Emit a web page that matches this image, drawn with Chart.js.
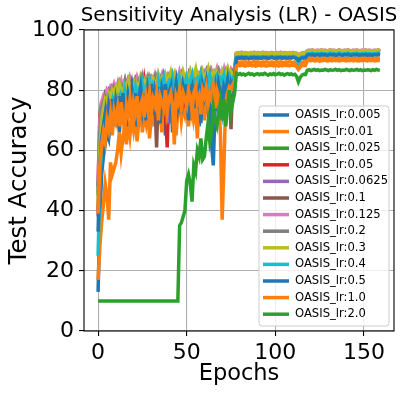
<!DOCTYPE html>
<html><head><meta charset="utf-8">
<script src="https://cdn.jsdelivr.net/npm/chart.js@4/dist/chart.umd.min.js"></script>
<style>html,body{margin:0;padding:0;background:#fff;}canvas{display:block;}</style>
</head><body>
<canvas id="c" width="408" height="395"></canvas>
<script>
// ---- data (Test Accuracy per epoch, epochs 0..159) ----
const lr0005 = [
13,38,52,58,62,66,64,70,68,72, 70,74,66,75,72,77,68,76,73,78,
71,77,74,79,70,76,78,72,79,75, 80,73,78,76,81,70,79,77,65,78,
80,74,79,76,82,72,80,78,75,81, 77,80,70,79,81,74,80,68,78,81,
76,80,72,79,62,55,74,80,77,81, 73,79,82,76,80,78,83,81,
90.5,90.8,90.6,90.9,90.7,90.8,91.0,90.6,90.9,90.7, 90.8,91.0,90.7,90.9,90.6,90.8,91.0,90.8,90.7,90.9,
91.0,90.8,90.9,90.7,91.0,90.8,90.9,91.1,90.8,90.9, 91.0,90.8,90.9,91.0,90.8,90.2,90.6,90.9,90.8,91.0,
91.7,91.9,91.8,91.7,91.9,91.8,92.0,91.8,91.7,91.9, 91.8,91.9,91.7,91.8,92.0,91.8,91.9,91.7,91.8,91.9,
91.8,92.0,91.8,91.7,91.9,91.8,91.9,91.8,92.0,91.8, 91.7,91.9,91.8,91.9,91.8,91.7,91.9,91.8,92.0,91.8,
91.9,91.8];
const lr001 = [
17,28,36,42,49,45,37,56,52,54, 56,60,66,59,64,68,62,70,65,71,
67,72,63,70,74,66,72,69,75,64, 71,74,68,76,70,73,66,75,72,77,
69,74,71,76,65,73,77,70,75,72, 76,68,74,77,71,75,64,76,73,78,
70,76,74,78,72,77,75,79,73,77, 76,80,74,78,77,81,79,82,
89.0,89.3,89.1,89.4,89.2,89.5,89.2,89.4,89.1,89.3, 89.5,89.2,89.4,89.3,89.1,89.4,89.2,89.5,89.3,89.2,
89.4,89.1,89.3,89.5,89.2,89.4,89.3,89.1,89.4,89.2, 89.5,89.3,89.2,89.4,89.0,88.3,88.8,89.2,89.4,89.3,
90.5,90.7,90.6,90.8,90.5,90.7,90.6,90.4,90.7,90.6, 90.8,90.5,90.6,90.7,90.5,90.8,90.6,90.7,90.5,90.6,
90.8,90.6,90.5,90.7,90.6,90.8,90.5,90.7,90.6,90.5, 90.7,90.6,90.8,90.6,90.5,90.7,90.6,90.8,90.5,90.6,
90.7,90.6];
const lr0025 = [
45,62,70,74,76,78,75,79,77,80, 78,81,76,80,79,82,77,81,80,82,
79,81,83,78,82,80,83,81,79,82, 83,80,82,84,81,83,79,82,84,81,
83,80,84,82,83,81,84,82,80,83, 84,81,83,85,82,84,80,83,85,82,
84,83,85,81,84,82,85,83,84,82, 85,83,84,86,82,85,84,86,
91.2,91.4,91.3,91.5,91.2,91.4,91.3,91.5,91.4,91.2, 91.4,91.3,91.5,91.3,91.4,91.2,91.5,91.3,91.4,91.3,
91.5,91.4,91.2,91.4,91.3,91.5,91.3,91.4,91.2,91.4, 91.3,91.5,91.4,91.3,91.2,90.8,91.1,91.3,91.4,91.3,
92.3,92.5,92.4,92.6,92.3,92.5,92.4,92.3,92.5,92.4, 92.6,92.4,92.3,92.5,92.4,92.6,92.3,92.4,92.5,92.4,
92.3,92.5,92.4,92.6,92.4,92.3,92.5,92.4,92.6,92.3, 92.4,92.5,92.4,92.3,92.5,92.4,92.6,92.4,92.5,92.3,
92.4,92.5];
const lr005 = [
40,60,68,72,75,73,77,76,78,75, 79,77,80,76,79,81,78,80,77,81,
79,82,78,80,81,77,82,75,80,82, 79,81,83,78,82,80,77,81,72,61,
80,82,78,83,81,79,82,80,83,78, 82,84,80,83,81,84,79,82,84,81,
83,80,84,82,85,81,83,84,80,83, 82,79,84,85,81,84,86,85,
91.5,91.7,91.6,91.8,91.5,91.7,91.6,91.4,91.7,91.6, 91.8,91.5,91.7,91.6,91.5,91.8,91.6,91.7,91.5,91.6,
91.8,91.6,91.5,91.7,91.6,91.8,91.5,91.7,91.6,91.5, 91.7,91.6,91.8,91.6,91.5,91.0,91.3,91.6,91.7,91.6,
92.5,92.7,92.6,92.8,92.5,92.6,92.7,92.5,92.8,92.6, 92.7,92.5,92.6,92.8,92.6,92.7,92.5,92.6,92.8,92.6,
92.5,92.7,92.6,92.8,92.6,92.5,92.7,92.6,92.8,92.5, 92.6,92.7,92.6,92.8,92.5,92.7,92.6,92.5,92.7,92.6,
92.8,92.6];
const lr00625 = [
38,58,67,71,74,76,73,78,76,79, 77,80,78,81,76,80,79,82,78,81,
80,78,82,79,81,83,78,82,80,81, 83,79,82,81,84,80,82,83,78,69,
81,83,80,84,82,79,83,81,84,80, 83,82,84,80,83,85,81,84,82,83,
85,81,83,80,68,79,84,82,85,83, 81,84,83,85,82,84,85,84,
91.8,92.0,91.9,92.1,91.8,92.0,91.9,91.7,92.0,91.9, 92.1,91.8,92.0,91.9,91.8,92.1,91.9,92.0,91.8,91.9,
92.1,91.9,91.8,92.0,91.9,92.1,91.8,92.0,91.9,91.8, 92.0,91.9,92.1,91.9,91.8,91.3,91.6,91.9,92.0,91.9,
92.8,93.0,92.9,93.1,92.8,92.9,93.0,92.8,93.1,92.9, 93.0,92.8,92.9,93.1,92.9,93.0,92.8,92.9,93.1,92.9,
92.8,93.0,92.9,93.1,92.9,92.8,93.0,92.9,93.1,92.8, 92.9,93.0,92.9,93.1,92.8,93.0,92.9,92.8,93.0,92.9,
93.1,92.9];
const lr01 = [
48,72,76,77,79,78,80,79,81,80, 81,80,82,79,81,82,80,83,81,82,
80,83,81,82,84,81,83,82,84,81, 83,82,78,61,80,83,82,84,81,83,
82,84,83,81,84,82,85,83,82,84, 83,85,82,84,83,85,84,82,85,83,
84,86,83,85,84,82,85,84,86,83, 85,84,86,83,82,67,84,85,
92.0,92.2,92.1,92.3,92.0,92.2,92.1,91.9,92.2,92.1, 92.3,92.0,92.2,92.1,92.0,92.3,92.1,92.2,92.0,92.1,
92.3,92.1,92.0,92.2,92.1,92.3,92.0,92.2,92.1,92.0, 92.2,92.1,92.3,92.1,92.0,91.5,91.8,92.1,92.2,92.1,
92.9,93.1,93.0,93.2,92.9,93.0,93.1,92.9,93.2,93.0, 93.1,92.9,93.0,93.2,93.0,93.1,92.9,93.0,93.2,93.0,
92.9,93.1,93.0,93.2,93.0,92.9,93.1,93.0,93.2,92.9, 93.0,93.1,93.0,93.2,92.9,93.1,93.0,92.9,93.1,93.0,
93.2,93.0];
const lr0125 = [
50,70,76,78,77,80,79,81,80,82, 80,82,81,83,80,82,83,81,84,82,
83,81,84,82,83,85,82,84,83,81, 84,83,85,82,84,83,85,82,84,85,
83,85,84,82,85,83,86,84,85,83, 85,84,86,83,85,84,86,85,83,86,
84,86,85,83,86,84,85,87,84,86, 85,87,84,86,85,87,86,87,
92.3,92.5,92.4,92.6,92.3,92.5,92.4,92.2,92.5,92.4, 92.6,92.3,92.5,92.4,92.3,92.6,92.4,92.5,92.3,92.4,
92.6,92.4,92.3,92.5,92.4,92.6,92.3,92.5,92.4,92.3, 92.5,92.4,92.6,92.4,92.3,91.8,92.1,92.4,92.5,92.4,
93.1,93.3,93.2,93.4,93.1,93.2,93.3,93.1,93.4,93.2, 93.3,93.1,93.2,93.4,93.2,93.3,93.1,93.2,93.4,93.2,
93.1,93.3,93.2,93.4,93.2,93.1,93.3,93.2,93.4,93.1, 93.2,93.3,93.2,93.4,93.1,93.3,93.2,93.1,93.3,93.2,
93.4,93.2];
const lr02 = [
46,66,74,76,78,77,79,80,78,81, 80,79,82,80,81,83,79,82,81,83,
81,82,80,83,82,84,81,83,82,80, 83,82,84,81,83,84,82,85,83,81,
84,82,85,83,81,84,83,85,82,84, 83,85,82,84,85,83,81,84,86,83,
85,83,84,86,82,85,84,83,86,84, 83,85,86,84,85,83,86,85,
91.9,92.1,92.0,92.2,91.9,92.1,92.0,91.8,92.1,92.0, 92.2,91.9,92.1,92.0,91.9,92.2,92.0,92.1,91.9,92.0,
92.2,92.0,91.9,92.1,92.0,92.2,91.9,92.1,92.0,91.9, 92.1,92.0,92.2,92.0,91.9,91.4,91.7,92.0,92.1,92.0,
92.7,92.9,92.8,93.0,92.7,92.8,92.9,92.7,93.0,92.8, 92.9,92.7,92.8,93.0,92.8,92.9,92.7,92.8,93.0,92.8,
92.7,92.9,92.8,93.0,92.8,92.7,92.9,92.8,93.0,92.7, 92.8,92.9,92.8,93.0,92.7,92.9,92.8,92.7,92.9,92.8,
93.0,92.8];
const lr03 = [
42,60,70,74,77,76,79,78,80,79, 81,79,82,80,78,82,81,83,80,82,
81,83,82,80,84,82,83,81,84,83, 82,84,83,81,85,83,84,82,85,83,
84,86,83,85,82,84,85,83,86,84, 85,83,86,84,85,87,83,85,84,86,
84,85,87,83,85,86,84,86,85,83, 86,84,85,87,84,86,85,86,
92.1,92.3,92.2,92.4,92.1,92.3,92.2,92.0,92.3,92.2, 92.4,92.1,92.3,92.2,92.1,92.4,92.2,92.3,92.1,92.2,
92.4,92.2,92.1,92.3,92.2,92.4,92.1,92.3,92.2,92.1, 92.3,92.2,92.4,92.2,92.1,91.6,91.9,92.2,92.3,92.2,
93.0,93.2,93.1,93.3,93.0,93.1,93.2,93.0,93.3,93.1, 93.2,93.0,93.1,93.3,93.1,93.2,93.0,93.1,93.3,93.1,
93.0,93.2,93.1,93.3,93.1,93.0,93.2,93.1,93.3,93.0, 93.1,93.2,93.1,93.3,93.0,93.2,93.1,93.0,93.2,93.1,
93.3,93.1];
const lr04 = [
25,50,62,68,72,70,74,73,76,72, 75,77,74,78,76,80,77,79,75,80,
78,81,77,80,79,82,78,81,80,83, 79,82,81,78,83,80,82,84,79,82,
83,80,84,81,83,79,84,82,83,80, 84,82,83,85,80,83,84,82,85,81,
83,84,82,85,83,80,84,85,82,84, 83,85,82,84,85,83,84,85,
90.9,91.1,91.0,91.2,90.9,91.1,91.0,90.8,91.1,91.0, 91.2,90.9,91.1,91.0,90.9,91.2,91.0,91.1,90.9,91.0,
91.2,91.0,90.9,91.1,91.0,91.2,90.9,91.1,91.0,90.9, 91.1,91.0,91.2,91.0,90.6,89.0,90.4,91.0,91.1,91.0,
92.0,92.2,92.1,92.3,92.0,92.1,92.2,92.0,92.3,92.1, 92.2,92.0,92.1,92.3,92.1,92.2,92.0,92.1,92.3,92.1,
92.0,92.2,92.1,92.3,92.1,92.0,92.2,92.1,92.3,92.0, 92.1,92.2,92.1,92.3,92.0,92.2,92.1,92.0,92.2,92.1,
92.3,92.1];
const lr05 = [
33,55,64,68,72,64,74,70,77,68, 76,72,78,70,79,74,68,78,75,80,
73,79,68,77,81,74,79,70,80,76, 82,72,79,75,81,69,80,77,82,73,
79,81,66,78,82,75,80,72,81,78, 82,70,79,81,74,82,77,80,69,81,
78,82,75,80,66,78,81,73,82,79, 74,81,79,83,76,82,80,84,
90.6,90.8,90.7,90.9,90.6,90.8,90.7,90.5,90.8,90.7, 90.9,90.6,90.8,90.7,90.6,90.9,90.7,90.8,90.6,90.7,
90.9,90.7,90.6,90.8,90.7,90.9,90.6,90.8,90.7,90.6, 90.8,90.7,90.9,90.7,90.5,89.9,90.4,90.7,90.8,90.7,
91.6,91.8,91.7,91.9,91.6,91.7,91.8,91.6,91.9,91.7, 91.8,91.6,91.7,91.9,91.7,91.8,91.6,91.7,91.9,91.7,
91.6,91.8,91.7,91.9,91.7,91.6,91.8,91.7,91.9,91.6, 91.7,91.8,91.7,91.9,91.6,91.8,91.7,91.6,91.8,91.7,
91.9,91.7];
const lr10 = [
39,55,62,66,63,70,67,72,65,73, 70,74,68,76,71,66,75,72,77,70,
76,73,78,68,75,77,71,78,74,79, 72,77,75,79,70,78,76,74,80,73,
77,79,75,62,78,76,80,74,79,77, 75,80,78,73,79,81,76,78,72,80,
78,81,75,79,77,81,74,80,78,66, 37,55,76,79,81,80,82,83,
88.0,88.3,88.1,88.4,88.2,88.0,88.3,88.2,88.4,88.1, 88.3,88.0,88.2,88.4,88.1,88.3,88.2,88.0,88.3,88.2,
88.4,88.1,88.3,88.2,88.0,88.3,88.1,88.4,88.2,88.3, 88.1,88.4,88.2,88.3,87.8,86.9,87.6,88.1,88.3,88.2,
89.7,89.9,89.8,90.0,89.7,89.8,89.9,89.6,89.9,89.8, 90.0,89.7,89.8,89.9,89.7,90.0,89.8,89.9,89.7,89.8,
90.0,89.8,89.7,89.9,89.8,90.0,89.7,89.9,89.8,89.7, 89.9,89.8,90.0,89.8,89.7,89.9,89.8,90.0,89.7,89.8,
89.9,89.8];
const lr20 = [
10,10,10,10,10,10,10,10,10,10, 10,10,10,10,10,10,10,10,10,10,
10,10,10,10,10,10,10,10,10,10, 10,10,10,10,10,10,10,10,10,10,
10,10,10,10,10,10,35,36,38,40, 50,52,49,43,55,53,60,58,64,57,
58,64,69,63,66,74,70,68,72,76, 70,77,68,74,80,73,76,79,
85.6,85.2,85.5,85.1,85.4,85.0,85.3,85.6,85.2,85.4, 85.0,85.3,85.5,85.1,85.4,85.2,85.6,85.3,85.0,85.4,
85.2,85.5,85.1,85.3,85.6,85.2,85.4,85.0,85.3,85.5, 85.2,85.4,85.1,85.3,84.6,82.8,84.2,85.0,85.3,85.2,
86.6,86.8,86.5,86.7,86.9,86.6,86.8,86.5,86.7,86.6, 86.9,86.7,86.5,86.8,86.6,86.7,86.9,86.6,86.8,86.5,
86.7,86.6,86.9,86.7,86.5,86.8,86.6,86.7,86.9,86.6, 86.8,86.5,86.7,86.6,86.8,86.7,86.5,86.8,86.6,86.9,
86.7,86.6];

const seriesLabels = ['OASIS_lr:0.005','OASIS_lr:0.01','OASIS_lr:0.025','OASIS_lr:0.05','OASIS_lr:0.0625',
  'OASIS_lr:0.1','OASIS_lr:0.125','OASIS_lr:0.2','OASIS_lr:0.3','OASIS_lr:0.4','OASIS_lr:0.5','OASIS_lr:1.0','OASIS_lr:2.0'];
const seriesValues = [lr0005, lr001, lr0025, lr005, lr00625, lr01, lr0125, lr02, lr03, lr04, lr05, lr10, lr20];
const seriesColors = ['#1f77b4','#ff7f0e','#2ca02c','#d62728','#9467bd','#8c564b','#e377c2','#7f7f7f','#bcbd22','#17becf','#1f77b4','#ff7f0e','#2ca02c'];
const xTicks = [0, 50, 100, 150];
const yTicks = [0, 20, 40, 60, 80, 100];

const FONT = "'DejaVu Sans', sans-serif";

const datasets = seriesLabels.map((label, k) => ({
  label,
  data: seriesValues[k].map((v, i) => ({ x: i, y: v })),
  borderColor: seriesColors[k],
  backgroundColor: seriesColors[k],
  borderWidth: 3.5,
  pointRadius: 0,
  tension: 0,
  fill: false,
  order: seriesLabels.length - 1 - k
}));

const titleCenter = {
  id: 'titleCenter',
  afterLayout(chart) {
    const t = chart.titleBlock, a = chart.chartArea;
    if (t) { const c = (a.left + a.right) / 2; t.left = c - 204; t.right = c + 204; t.width = 408; }
  }
};

const frame = {
  id: 'frame',
  afterDatasetsDraw(chart) {
    const { ctx, chartArea: a } = chart;
    ctx.save();
    ctx.strokeStyle = '#000'; ctx.lineWidth = 1.1;
    ctx.strokeRect(a.left, a.top, a.right - a.left, a.bottom - a.top);
    ctx.restore();
  }
};

const boxLegend = {
  id: 'boxLegend',
  afterDraw(chart) {
    const ctx = chart.ctx;
    const bx = 259, by = 106, bw = 130, bh = 220, r = 3;
    ctx.save();
    ctx.beginPath();
    ctx.moveTo(bx + r, by); ctx.lineTo(bx + bw - r, by); ctx.quadraticCurveTo(bx + bw, by, bx + bw, by + r);
    ctx.lineTo(bx + bw, by + bh - r); ctx.quadraticCurveTo(bx + bw, by + bh, bx + bw - r, by + bh);
    ctx.lineTo(bx + r, by + bh); ctx.quadraticCurveTo(bx, by + bh, bx, by + bh - r);
    ctx.lineTo(bx, by + r); ctx.quadraticCurveTo(bx, by, bx + r, by);
    ctx.closePath();
    ctx.fillStyle = 'rgba(255,255,255,0.8)'; ctx.fill();
    ctx.strokeStyle = '#cccccc'; ctx.lineWidth = 1; ctx.stroke();
    ctx.font = "11.6px " + FONT; ctx.textBaseline = 'middle'; ctx.textAlign = 'left';
    chart.data.datasets.forEach((ds, i) => {
      const y = 115 + i * 16.6;
      ctx.strokeStyle = ds.borderColor; ctx.lineWidth = 3.5; ctx.lineCap = 'butt';
      ctx.beginPath(); ctx.moveTo(263, y); ctx.lineTo(289, y); ctx.stroke();
      ctx.fillStyle = '#000';
      ctx.fillText(ds.label, 295, y);
    });
    ctx.restore();
  }
};

new Chart(document.getElementById('c'), {
  type: 'line',
  data: { datasets },
  plugins: [titleCenter, frame, boxLegend],
  options: {
    responsive: false,
    animation: false,
    devicePixelRatio: 1,
    layout: { padding: { left: 0, right: 14, top: 0, bottom: 0 } },
    plugins: {
      legend: { display: false },
      tooltip: { enabled: false },
      title: {
        display: true, text: 'Sensitivity Analysis (LR) - OASIS', color: '#000',
        font: { family: FONT, size: 19.8, weight: 'normal' },
        padding: { top: 4.4, bottom: 1.8 }
      }
    },
    scales: {
      x: {
        type: 'linear', min: -7.95, max: 166.95,
        afterBuildTicks: s => { s.ticks = xTicks.map(v => ({ value: v })); },
        afterFit: s => { s.height = 64; },
        grid: { color: '#b0b0b0', lineWidth: 1.1, drawTicks: true, tickLength: 5, tickColor: '#000', tickWidth: 1.1 },
        border: { display: false },
        ticks: { font: { family: FONT, size: 22 }, color: '#000', padding: 4, maxRotation: 0, autoSkip: false },
        title: { display: true, text: 'Epochs', color: '#000', font: { family: FONT, size: 22.5 }, padding: { top: 0, bottom: 7 } }
      },
      y: {
        min: 0, max: 100,
        afterBuildTicks: s => { s.ticks = yTicks.map(v => ({ value: v })); },
        afterFit: s => { s.width = 84; },
        grid: { color: '#b0b0b0', lineWidth: 1.1, drawTicks: true, tickLength: 5, tickColor: '#000', tickWidth: 1.1 },
        border: { display: false },
        ticks: { font: { family: FONT, size: 22 }, color: '#000', padding: 5 },
        title: { display: true, text: 'Test Accuracy', color: '#000', font: { family: FONT, size: 24.5 }, padding: { top: 5.3, bottom: 0 } }
      }
    }
  }
});
</script>
</body></html>
